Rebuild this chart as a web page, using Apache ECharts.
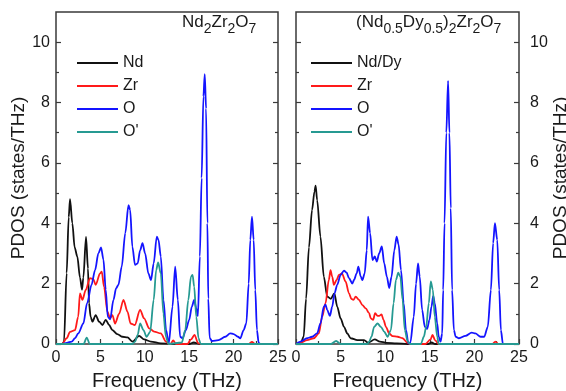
<!DOCTYPE html>
<html>
<head>
<meta charset="utf-8">
<script src="https://cdn.jsdelivr.net/npm/echarts@6/dist/echarts.min.js"></script>
<style>
  html, body { margin: 0; padding: 0; background: #fff; }
  #chart { width: 566px; height: 391px; }
</style>
</head>
<body>
<div id="chart"></div>
<script>
// PDOS curves: frequency (THz) / PDOS (states/THz)

// --- Nd2Zr2O7 ---
const ndFreq = [0, 0.7, 0.9, 1.2, 1.43, 1.58, 1.84, 2.1, 2.4, 2.7, 2.93, 3.08, 3.38, 3.6, 3.72, 3.9, 4.1, 4.47, 4.85, 5.23, 5.6, 5.98, 6.35, 6.9, 7.5, 8.05, 8.6, 9.36, 9.92, 10.68, 11.8, 13.2, 15.0, 15.5, 16.2, 25];
const ndPdos = [0, 0, 0.08, 2.35, 4.2, 4.8, 4.0, 3.2, 2.9, 2.2, 1.8, 2.2, 3.55, 2.5, 1.35, 0.9, 0.74, 0.96, 0.74, 0.63, 0.8, 0.63, 0.46, 0.33, 0.24, 0.22, 0.08, 0.27, 0.15, 0.08, 0.02, 0, 0, 0.05, 0, 0];

const zrFreq = [0, 0.7, 1.2, 1.58, 2.14, 2.5, 2.7, 2.97, 3.35, 3.83, 4.2, 4.47, 4.96, 5.15, 5.41, 5.79, 6.09, 6.35, 6.65, 7.1, 7.6, 8.05, 8.4, 8.87, 9.47, 9.92, 10.5, 11.05, 11.8, 12.4, 12.7, 12.9, 13.2, 13.5, 14.8, 15.2, 15.6, 16.0, 16.3, 21.7, 22.07, 22.4, 25];
const zrPdos = [0, 0, 0.19, 0.4, 0.46, 0.9, 1.68, 1.46, 1.79, 2.18, 2.15, 1.96, 2.34, 2.4, 1.9, 1.07, 0.85, 0.96, 0.68, 1.0, 1.46, 1.07, 0.68, 0.63, 1.13, 0.85, 0.52, 0.41, 0.35, 0.08, 0, 0, 0.12, 0, 0, 0.15, 0.3, 0.03, 0, 0, 0.07, 0, 0];

const oFreq = [0, 0.7, 1.2, 1.77, 2.14, 2.5, 3.08, 3.5, 4.0, 4.4, 4.77, 5.07, 5.34, 5.6, 5.83, 6.1, 6.47, 6.77, 7.03, 7.4, 7.8, 8.16, 8.35, 8.6, 8.9, 9.2, 9.47, 9.74, 10.04, 10.4, 10.7, 11.0, 11.35, 11.54, 11.8, 12.1, 12.4, 12.7, 13.12, 13.42, 13.72, 13.98, 14.25, 14.62, 15.0, 15.3, 15.56, 15.79, 15.98, 16.2, 16.4, 16.6, 16.75, 16.9, 17.05, 17.15, 17.3, 17.56, 18.3, 19.06, 19.62, 20.0, 20.49, 20.75, 21.13, 21.43, 21.7, 21.88, 22.07, 22.26, 22.44, 22.63, 22.82, 23.0, 25];
const oPdos = [0, 0, 0.04, 0.08, 0.19, 0.35, 0.68, 1.35, 1.96, 2.45, 3.0, 3.2, 2.8, 1.8, 0.9, 0.82, 1.46, 1.85, 1.96, 2.56, 3.67, 4.6, 4.44, 3.22, 2.62, 2.67, 3.1, 3.34, 3.0, 2.34, 2.12, 2.67, 3.56, 3.45, 2.9, 1.46, 0.46, 0.02, 1.24, 2.56, 1.46, 0.24, 0.19, 0.46, 0.8, 1.24, 1.46, 1.19, 0.93, 2.9, 5.5, 8.2, 8.94, 7.8, 4.0, 1.5, 0.2, 0.1, 0.13, 0.24, 0.35, 0.33, 0.24, 0.19, 0.46, 0.68, 2.0, 3.45, 4.22, 3.45, 1.79, 0.46, 0.04, 0, 0];

const o2Freq = [0, 3.1, 3.46, 3.8, 8.6, 8.9, 9.2, 9.47, 9.85, 10.2, 10.6, 11.0, 11.28, 11.5, 11.8, 12.1, 12.37, 12.67, 14.17, 14.55, 14.9, 15.2, 15.38, 15.56, 15.8, 16.05, 16.3, 25];
const o2Pdos = [0, 0, 0.21, 0, 0, 0.08, 0.3, 0.68, 0.46, 0.24, 0.4, 1.46, 2.45, 2.7, 2.34, 1.0, 0.24, 0, 0.05, 0.46, 1.46, 2.23, 2.29, 1.9, 0.9, 0.19, 0, 0];

// --- (Nd0.5Dy0.5)2Zr2O7 ---
const ndDyFreq = [0, 0.5, 0.86, 1.13, 1.45, 1.8, 2.07, 2.2, 2.37, 2.74, 3.12, 3.5, 3.9, 4.3, 4.62, 5.0, 5.38, 5.75, 6.13, 6.88, 7.63, 8.08, 8.83, 9.4, 10.15, 11.3, 12.5, 14.8, 15.2, 15.6, 25];
const ndDyPdos = [0, 0, 0.24, 1.5, 3.2, 4.44, 5.05, 5.25, 4.77, 3.56, 2.23, 1.57, 1.5, 1.68, 1.24, 0.85, 0.57, 0.35, 0.19, 0.13, 0.13, 0.04, 0.15, 0.08, 0.04, 0.02, 0, 0, 0.05, 0, 0];

const zrBFreq = [0, 0.49, 1.24, 1.99, 2.56, 2.93, 3.31, 3.68, 3.87, 4.06, 4.25, 4.55, 4.81, 5.15, 5.56, 5.94, 6.2, 6.43, 6.69, 7.07, 7.44, 7.82, 8.2, 8.38, 8.65, 8.87, 9.14, 9.32, 9.59, 9.81, 10.08, 10.45, 10.83, 11.4, 11.95, 12.5, 12.8, 14.5, 15.08, 15.3, 15.6, 16.0, 22.0, 22.35, 22.7, 25];
const zrBPdos = [0, 0.04, 0.13, 0.19, 0.35, 0.9, 1.35, 2.12, 2.45, 2.23, 1.96, 2.12, 2.29, 2.34, 2.07, 1.68, 1.5, 1.46, 1.57, 1.46, 1.29, 1.18, 1.02, 0.85, 0.8, 1.02, 0.93, 0.93, 0.98, 0.8, 0.57, 0.35, 0.26, 0.24, 0.19, 0.04, 0, 0, 0.15, 0.3, 0.12, 0, 0, 0.08, 0, 0];

const oBFreq = [0, 0.49, 1.24, 1.8, 2.37, 2.74, 3.12, 3.31, 3.5, 3.8, 4.06, 4.32, 4.62, 5.0, 5.38, 5.68, 5.94, 6.32, 6.5, 6.8, 6.99, 7.26, 7.44, 7.7, 7.93, 8.08, 8.31, 8.57, 8.83, 9.06, 9.32, 9.62, 9.89, 10.19, 10.45, 10.71, 11.02, 11.28, 11.5, 11.77, 12.07, 12.33, 12.6, 12.82, 13.2, 13.46, 13.68, 13.87, 14.14, 14.44, 14.7, 14.96, 15.19, 15.38, 15.56, 15.83, 16.0, 16.2, 16.39, 16.5, 16.65, 16.85, 17.05, 17.2, 17.35, 17.5, 17.7, 17.9, 18.27, 19.0, 19.7, 20.1, 20.7, 21.1, 21.5, 21.85, 22.1, 22.3, 22.56, 22.78, 22.97, 23.2, 25];
const oBPdos = [0, 0.08, 0.19, 0.24, 0.35, 0.68, 1.24, 1.3, 1.13, 0.93, 1.24, 1.68, 1.96, 2.29, 2.43, 2.36, 2.18, 2.0, 2.12, 2.34, 2.56, 2.23, 2.12, 2.34, 3.1, 4.22, 3.67, 2.78, 2.9, 2.73, 3.0, 3.23, 2.67, 2.23, 1.85, 2.23, 3.1, 3.56, 3.3, 2.45, 1.35, 0.46, 0.02, 0.05, 0.9, 2.0, 2.67, 2.23, 1.13, 0.57, 0.5, 0.8, 1.24, 1.59, 1.35, 0.68, 0.24, 0.08, 0.35, 1.79, 4.0, 7.0, 8.72, 7.0, 4.5, 1.79, 0.46, 0.24, 0.19, 0.27, 0.38, 0.35, 0.24, 0.24, 0.57, 1.79, 3.34, 4.0, 3.45, 1.79, 0.46, 0, 0];

const o2BFreq = [0, 3.9, 4.5, 5.0, 8.0, 8.2, 8.46, 8.76, 9.14, 9.51, 9.89, 10.26, 10.64, 10.94, 11.2, 11.47, 11.7, 11.95, 12.2, 12.52, 12.8, 14.0, 14.33, 14.59, 14.89, 15.11, 15.34, 15.56, 15.83, 16.0, 25];
const o2BPdos = [0, 0, 0.1, 0, 0, 0.08, 0.24, 0.57, 0.68, 0.57, 0.41, 0.24, 0.46, 1.35, 2.12, 2.36, 2.23, 1.46, 0.46, 0.08, 0, 0, 0.24, 0.57, 1.35, 2.07, 1.8, 0.9, 0.24, 0, 0];

const xTicks = { min: 0, max: 25, step: 5 };
const yMajor = [0, 2, 4, 6, 8, 10];
const yMinor = [1, 3, 5, 7, 9];

const FONT = '"Liberation Sans", Arial, Helvetica, sans-serif';
const FRAME = '#3a3a3a';
const TEXT = '#1a1a1a';
const COLORS = { nd: '#111111', zr: '#ff1a1a', o: '#1414ff', o2: '#269a92' };

function pairs(f, v) {
  return f.map((x, i) => [x, v[i]]);
}

function xAxisFor(grid) {
  return {
    type: 'value', gridIndex: grid,
    min: xTicks.min, max: xTicks.max, interval: xTicks.step,
    name: 'Frequency (THz)', nameLocation: 'middle', nameGap: 27,
    nameTextStyle: { fontSize: 20, color: TEXT },
    axisLine: { show: false },
    axisTick: { inside: true, length: 5, lineStyle: { color: FRAME, width: 1.2 } },
    minorTick: { show: true, splitNumber: 2, length: 3, lineStyle: { color: FRAME, width: 1.2 } },
    axisLabel: { fontSize: 16, color: TEXT, margin: 6 },
    splitLine: { show: false }
  };
}

function yAxisFor(grid, side, values, len, labels, named) {
  return {
    type: 'value', gridIndex: grid, position: side, min: 0, max: 11,
    axisLine: { show: false },
    axisTick: { inside: true, length: len, customValues: values, lineStyle: { color: FRAME, width: 1.2 } },
    axisLabel: labels
      ? { customValues: values, fontSize: 16, color: TEXT, margin: side === 'left' ? 6 : 11 }
      : { show: false },
    splitLine: { show: false },
    name: named ? 'PDOS (states/THz)' : '',
    nameLocation: 'middle', nameRotate: 90, nameGap: side === 'left' ? 26 : 27,
    nameTextStyle: { fontSize: 19, color: TEXT }
  };
}

function line(name, color, f, v, grid) {
  return {
    type: 'line', name: name, data: pairs(f, v),
    xAxisIndex: grid, yAxisIndex: grid * 4,
    smooth: 0.3, smoothMonotone: 'x', symbol: 'none',
    lineStyle: { color: color, width: 1.8 }, itemStyle: { color: color }
  };
}

const chart = echarts.init(document.getElementById('chart'));

const titleRich = {
  b: { fontSize: 17, lineHeight: 20, fontWeight: 'normal', color: TEXT, fontFamily: FONT },
  s: { fontSize: 14, lineHeight: 14, padding: [14, 0, 0, 0], fontWeight: 'normal', color: TEXT, fontFamily: FONT }
};

const legendBase = {
  orient: 'vertical', top: 55, padding: 0, icon: 'rect',
  itemWidth: 41, itemHeight: 2, itemGap: 7, selectedMode: false,
  textStyle: { fontSize: 16, color: TEXT }
};

const gridBase = {
  top: 12, height: 332, show: true, outerBoundsMode: 'none', containLabel: false,
  borderColor: FRAME, borderWidth: 1.5, backgroundColor: 'transparent'
};

chart.setOption({
  animation: false,
  backgroundColor: '#fff',
  textStyle: { fontFamily: FONT },
  title: [
    { text: '{b|Nd}{s|2}{b|Zr}{s|2}{b|O}{s|7}', left: 182, top: 12, padding: 0,
      textStyle: { fontWeight: 'normal', rich: titleRich } },
    { text: '{b|(Nd}{s|0.5}{b|Dy}{s|0.5}{b|)}{s|2}{b|Zr}{s|2}{b|O}{s|7}', left: 356, top: 12, padding: 0,
      textStyle: { fontWeight: 'normal', rich: titleRich } }
  ],
  legend: [
    Object.assign({}, legendBase, { data: ['Nd', 'Zr', 'O', "O'"], left: 77 }),
    Object.assign({}, legendBase, { data: ['Nd/Dy', 'Zr', 'O', "O'"], left: 311 })
  ],
  grid: [
    Object.assign({}, gridBase, { left: 56, width: 222 }),
    Object.assign({}, gridBase, { left: 296, width: 223 })
  ],
  xAxis: [xAxisFor(0), xAxisFor(1)],
  yAxis: [
    yAxisFor(0, 'left', yMajor, 5, true, true),
    yAxisFor(0, 'left', yMinor, 3, false, false),
    yAxisFor(0, 'right', yMajor, 5, false, false),
    yAxisFor(0, 'right', yMinor, 3, false, false),
    yAxisFor(1, 'left', yMajor, 5, false, false),
    yAxisFor(1, 'left', yMinor, 3, false, false),
    yAxisFor(1, 'right', yMajor, 5, true, true),
    yAxisFor(1, 'right', yMinor, 3, false, false)
  ],
  series: [
    line('Nd', COLORS.nd, ndFreq, ndPdos, 0),
    line('Zr', COLORS.zr, zrFreq, zrPdos, 0),
    line('O', COLORS.o, oFreq, oPdos, 0),
    line("O'", COLORS.o2, o2Freq, o2Pdos, 0),
    line('Nd/Dy', COLORS.nd, ndDyFreq, ndDyPdos, 1),
    line('Zr', COLORS.zr, zrBFreq, zrBPdos, 1),
    line('O', COLORS.o, oBFreq, oBPdos, 1),
    line("O'", COLORS.o2, o2BFreq, o2BPdos, 1)
  ]
});
</script>
</body>
</html>
